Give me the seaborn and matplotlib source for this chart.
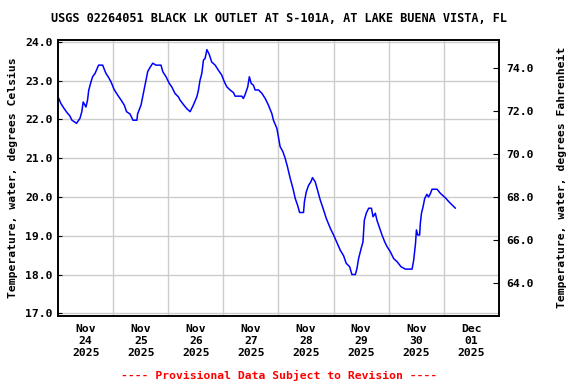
import numpy as np
import pandas as pd
import matplotlib
matplotlib.use("Agg")
import matplotlib.pyplot as plt
import matplotlib.dates as mdates
from matplotlib.ticker import FormatStrFormatter, FixedLocator
import seaborn as sns

title = "USGS 02264051 BLACK LK OUTLET AT S-101A, AT LAKE BUENA VISTA, FL"
ylabel_left = "Temperature, water, degrees Celsius"
ylabel_right = "Temperature, water, degrees Fahrenheit"
footer = "---- Provisional Data Subject to Revision ----"

start_time = "2025-11-24 00:00"
# hours since start_time
hours = [0.2, 1.2, 2.6, 3.8, 5.1, 6.0, 8.0, 9.5, 10.3, 10.9, 12.1, 12.8, 13.3, 14.3, 15.0,
         16.1, 16.8, 17.6, 19.4, 20.1, 20.8, 22.0, 23.0, 24.4, 25.9, 27.4, 28.8, 29.8,
         31.3, 32.6, 34.3, 34.6, 36.1, 37.1, 38.0, 39.0, 39.7, 41.2, 42.6, 44.8, 45.6,
         47.0, 48.4, 49.5, 50.9, 52.4, 53.1, 54.5, 56.0, 57.5, 58.9, 60.4, 61.1, 61.8,
         62.6, 63.3, 64.0, 64.8, 65.8, 66.9, 68.4, 69.8, 71.3, 72.4, 73.5, 74.9, 76.4,
         77.1, 80.0, 80.7, 81.5, 82.6, 83.3, 84.1, 85.1, 85.8, 87.3, 88.8, 90.2, 91.6,
         93.1, 93.8, 95.3, 96.7, 97.9, 98.9, 99.9, 101.1, 102.3, 103.3, 104.3, 105.2,
         106.9, 107.3, 108.1, 109.1, 110.1, 110.8, 112.0, 113.0, 114.2, 115.4, 116.8,
         118.6, 120.0, 121.5, 122.9, 124.4, 125.5, 127.0, 128.0, 129.5, 130.2, 130.9,
         132.0, 132.8, 133.4, 134.3, 135.3, 136.5, 137.2, 138.2, 138.9, 140.1, 141.1,
         142.3, 143.3, 144.7, 146.2, 147.7, 149.4, 151.3, 154.2, 154.9, 155.7, 156.1,
         156.7, 157.5, 157.8, 158.3, 159.0, 159.7, 160.7, 161.4, 162.2, 162.9, 165.1,
         166.6, 168.7, 170.2, 171.7, 173.1]
temp_c = [22.55, 22.41, 22.28, 22.18, 22.09, 21.98, 21.9, 22.03, 22.2, 22.45, 22.32, 22.5,
          22.75, 22.97, 23.1, 23.19, 23.29, 23.4, 23.4, 23.29, 23.19, 23.08, 22.97, 22.77,
          22.63, 22.5, 22.37, 22.2, 22.14, 21.98, 21.98, 22.14, 22.37, 22.67, 22.93, 23.23,
          23.31, 23.45, 23.4, 23.4, 23.23, 23.1, 22.93, 22.84, 22.67, 22.58, 22.5, 22.39,
          22.28, 22.2, 22.37, 22.58, 22.75, 23.01, 23.19, 23.53, 23.57, 23.8, 23.68, 23.48,
          23.4, 23.27, 23.14, 22.97, 22.84, 22.76, 22.69, 22.6, 22.6, 22.54, 22.65, 22.84,
          23.1, 22.93, 22.88, 22.76, 22.76, 22.67, 22.54, 22.37, 22.15, 21.98, 21.77, 21.3,
          21.17, 21.0, 20.78, 20.48, 20.22, 19.96, 19.79, 19.6, 19.6, 19.88, 20.13, 20.3,
          20.39, 20.5, 20.39, 20.18, 19.92, 19.71, 19.45, 19.19, 19.02, 18.82, 18.63, 18.48,
          18.29, 18.2, 18.0, 18.0, 18.16, 18.41, 18.67, 18.84, 19.4, 19.59, 19.71, 19.71,
          19.49, 19.58, 19.4, 19.19, 19.02, 18.84, 18.72, 18.59, 18.41, 18.33, 18.2, 18.14,
          18.14, 18.37, 18.8, 19.15, 19.02, 19.02, 19.32, 19.58, 19.75, 19.96, 20.07, 20.0,
          20.09, 20.2, 20.2, 20.09, 19.98, 19.88, 19.79, 19.71]

day_labels = ["Nov\n24\n2025", "Nov\n25\n2025", "Nov\n26\n2025", "Nov\n27\n2025",
              "Nov\n28\n2025", "Nov\n29\n2025", "Nov\n30\n2025", "Dec\n01\n2025"]
left_ticks = [17.0, 18.0, 19.0, 20.0, 21.0, 22.0, 23.0, 24.0]
right_ticks = [64.0, 66.0, 68.0, 70.0, 72.0, 74.0]

sns.set_style("white")
plt.rcParams['font.family'] = ['DejaVu Sans Mono']
plt.rcParams['font.weight'] = 'bold'
plt.rcParams['text.color'] = 'black'
plt.rcParams['axes.labelcolor'] = 'black'
plt.rcParams['xtick.color'] = 'black'
plt.rcParams['ytick.color'] = 'black'
FS = 8.2

t0 = pd.Timestamp(start_time)
df = pd.DataFrame({
    "time": t0 + pd.to_timedelta(hours, unit="h"),
    "temp": temp_c,
})

fig = plt.figure(figsize=(5.76, 3.84), dpi=100)
ax = fig.add_axes([0.101, 0.177, 0.765, 0.72])

sns.lineplot(data=df, x="time", y="temp", ax=ax, color="#0000ff", linewidth=1.1)

ymin, ymax = 16.93, 24.06
ax.set_ylim(ymin, ymax)
ax.set_xlim(t0, t0 + pd.Timedelta(days=8))

ax.yaxis.set_major_locator(FixedLocator(left_ticks))
ax.yaxis.set_major_formatter(FormatStrFormatter("%.1f"))
midnights = [t0 + pd.Timedelta(days=i) for i in range(1, 8)]
ax.xaxis.set_minor_locator(FixedLocator(mdates.date2num(midnights)))
noons = [t0 + pd.Timedelta(days=i, hours=12) for i in range(8)]
ax.xaxis.set_major_locator(FixedLocator(mdates.date2num(noons)))
ax.set_xticklabels(day_labels, fontsize=FS, fontweight="bold", linespacing=1.25)
ax.grid(False)
ax.grid(True, which="minor", axis="x", color="#cccccc", linewidth=1.0)
ax.grid(True, which="major", axis="y", color="#cccccc", linewidth=1.0)
ax.set_axisbelow(True)
ax.tick_params(axis="x", which="both", length=0, pad=6)
ax.tick_params(axis="y", which="major", direction="in", length=3, labelsize=FS, pad=4)
for lbl in ax.get_yticklabels():
    lbl.set_fontweight("bold")
ax.set_xlabel("")
ax.set_ylabel(ylabel_left, fontsize=FS, fontweight="bold", labelpad=5)
for sp in ax.spines.values():
    sp.set_color("black")
    sp.set_linewidth(1.2)

ax2 = ax.twinx()
ax2.set_ylim(ymin * 9 / 5 + 32, ymax * 9 / 5 + 32)
ax2.yaxis.set_major_locator(FixedLocator(right_ticks))
ax2.yaxis.set_major_formatter(FormatStrFormatter("%.1f"))
ax2.tick_params(axis="y", direction="in", length=4, labelsize=FS, pad=5)
for lbl in ax2.get_yticklabels():
    lbl.set_fontweight("bold")
ax2.set_ylabel(ylabel_right, fontsize=FS, fontweight="bold", labelpad=17)
ax2.grid(False)
for sp in ax2.spines.values():
    sp.set_color("black")
    sp.set_linewidth(1.2)

fig.text(0.484, 0.953, title, ha="center", va="center", fontsize=8.6, fontweight="bold")
fig.text(0.484, 0.023, footer, ha="center", va="center", fontsize=FS, fontweight="bold",
         color="#ff0000")

fig.savefig("out.png", dpi=100, facecolor="white")
